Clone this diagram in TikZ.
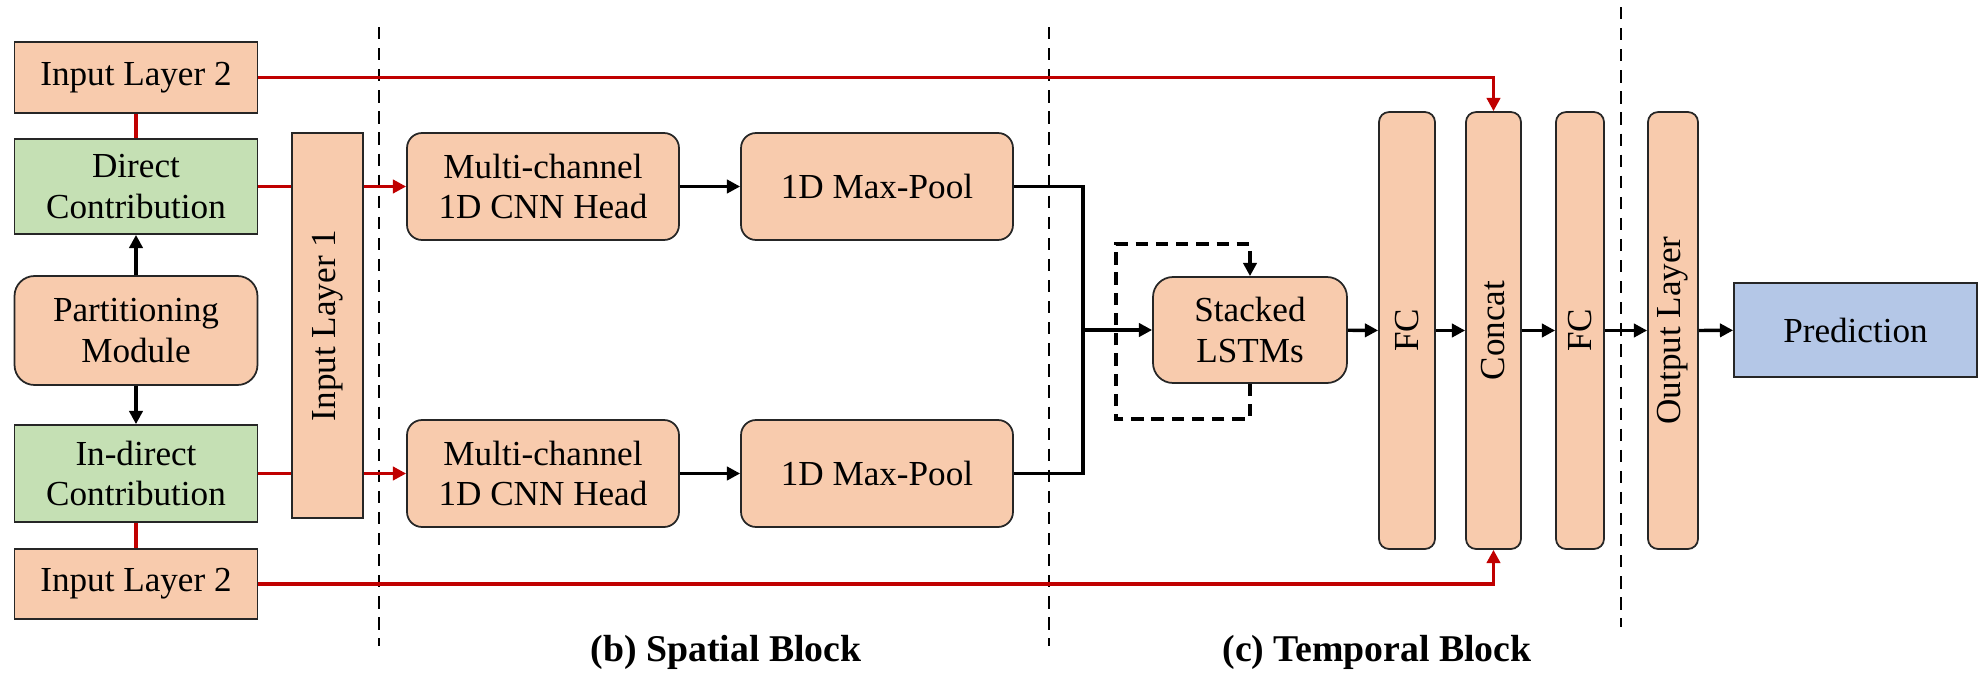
\documentclass[tikz,border=0pt]{standalone}
\usepackage{fontspec}
\setmainfont{Liberation Serif}
\usepackage{graphicx}
\usetikzlibrary{arrows.meta,calc}
\definecolor{peach}{HTML}{F8CBAD}
\definecolor{leaf}{HTML}{C5E0B4}
\definecolor{sky}{HTML}{B4C7E7}
\definecolor{wire}{HTML}{C00000}
\definecolor{rim}{HTML}{262626}
\tikzset{layer/.style={draw=rim,line width=1pt,fill=peach,inner sep=0pt,align=center,
   font=\fontsize{20}{23}\selectfont},
 block/.style={layer,rounded corners=0.3cm,minimum width=5.44cm,minimum height=2.14cm},
 bar/.style={layer,rounded corners=0.2cm,minimum height=8.74cm},
 flow/.style={-{Triangle[length=7.5pt,width=7.5pt]},line width=1.9pt},
 feed/.style={line width=2.2pt,wire},
 divider/.style={line width=1.3pt,dash pattern=on 7pt off 5pt},
 recur/.style={line width=2.1pt,dash pattern=on 7pt off 4.5pt},
 caption/.style={font=\fontsize{21.5}{24}\selectfont\bfseries}}

\begin{document}
\begin{tikzpicture}[x=0.02cm,y=-0.02cm]
\useasboundingbox (0,0) rectangle (1979,673);
% input side
\node[layer,minimum width=4.86cm,minimum height=1.42cm] (in2top) at (136,77.5) {Input Layer 2};
\node[layer,fill=leaf,minimum width=4.86cm,minimum height=1.9cm] (direct) at (136,186.5) {Direct\\Contribution};
\node[layer,rounded corners=0.4cm,minimum width=4.86cm,minimum height=2.18cm] (part) at (136,330.5) {Partitioning\\Module};
\node[layer,fill=leaf,minimum width=4.86cm,minimum height=1.94cm] (indirect) at (136,473.5) {In-direct\\Contribution};
\node[layer,minimum width=4.86cm,minimum height=1.4cm] (in2bot) at (136,584) {Input Layer 2};
\node[layer,minimum width=1.42cm,minimum height=7.7cm] (in1) at (327.5,325.5) {\rotatebox{90}{Input Layer 1}};
% spatial block
\node[block] (cnn1) at (543,186.5) {Multi-channel\\1D CNN Head};
\node[block] (pool1) at (877,186.5) {1D Max-Pool};
\node[block] (cnn2) at (543,473.5) {Multi-channel\\1D CNN Head};
\node[block] (pool2) at (877,473.5) {1D Max-Pool};
% temporal block
\coordinate (merge) at (1083,330);
\node[block,rounded corners=0.4cm,minimum width=3.88cm,minimum height=2.12cm] (lstm) at (1250,330) {Stacked\\LSTMs};
\node[bar,minimum width=1.12cm] (fc1) at (1407,330.5) {\rotatebox{90}{FC}};
\node[bar,minimum width=1.1cm] (concat) at (1493.5,330.5) {\rotatebox{90}{Concat}};
\node[bar,minimum width=0.96cm] (fc2) at (1580,330.5) {\rotatebox{90}{FC}};
\node[bar,minimum width=1cm] (outl) at (1673,330.5) {\rotatebox{90}{Output Layer}};
\node[layer,fill=sky,minimum width=4.86cm,minimum height=1.88cm] (pred) at (1855.5,330) {Prediction};

% block borders
\draw[divider] (379,27) -- (379,646);
\draw[divider] (1049,27) -- (1049,646);
\draw[divider] (1621,7) -- (1621,627);

% red feeds
\draw[feed] (in2top.south) -- (direct.north);
\draw[feed] (indirect.south) -- (in2bot.north);
\draw[feed] (direct.east) -- (direct.east -| in1.west);
\draw[flow,feed] (direct.east -| in1.east) -- (cnn1.west);
\draw[feed] (indirect.east) -- (indirect.east -| in1.west);
\draw[flow,feed] (indirect.east -| in1.east) -- (cnn2.west);
\draw[flow,feed] (in2top.east) -| (concat.north);
\draw[flow,feed] (in2bot.east) -| (concat.south);

% black flow
\draw[flow] (part.north) -- (direct.south);
\draw[flow] (part.south) -- (indirect.north);
\draw[flow] (cnn1) -- (pool1);
\draw[flow] (cnn2) -- (pool2);
\draw[line width=1.9pt] (pool1.east) -| (merge) |- (pool2.east);
\draw[flow] (merge) -- (lstm.west);
\draw[recur,-{Triangle[length=7.5pt,width=7.5pt]}] (lstm.south) -- ++(0,35) -- ++(-134,0)
  -- ++(0,-175) -- ++(134,0) -- (lstm.north);
\draw[flow] (lstm) -- (fc1);
\draw[flow] (fc1) -- (concat);
\draw[flow] (concat) -- (fc2);
\draw[flow] (fc2) -- (outl);
\draw[flow] (outl) -- (pred);

\node[caption] (spatial) at (726,652) {(b) Spatial Block};
\node[caption] (temporal) at (1377,652) {(c) Temporal Block};
\end{tikzpicture}
\end{document}
